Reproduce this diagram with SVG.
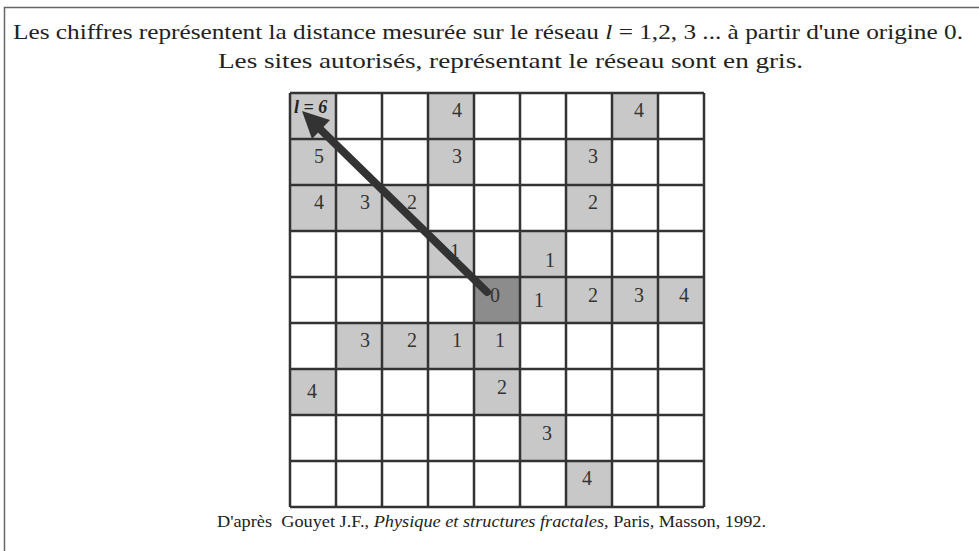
<svg xmlns="http://www.w3.org/2000/svg" width="979" height="551" viewBox="0 0 979 551">
<style>
.t{font-family:"Liberation Serif","Times New Roman",serif;fill:#222;}
.n{font-family:"Liberation Serif","Times New Roman",serif;font-size:20px;fill:#333;text-anchor:middle;}
.g{fill:#c8c8c8;}
.o{fill:#8c8c8c;}
.grid{fill:none;stroke:#333;stroke-width:2.5;}
</style>
<rect width="979" height="551" fill="#fff"/>
<path d="M4.5 551 V7.5 H979" fill="none" stroke="#666" stroke-width="1.5"/>
<text class="t" x="13" y="39" font-size="22" textLength="950" lengthAdjust="spacingAndGlyphs">Les chiffres représentent la distance mesurée sur le réseau <tspan font-style="italic">l</tspan> = 1,2, 3 ... à partir d'une origine 0.</text>
<text class="t" x="218" y="68" font-size="22" textLength="585" lengthAdjust="spacingAndGlyphs">Les sites autorisés, représentant le réseau sont en gris.</text>
<g id="cells">
<g id="c0-0"><rect class="g" x="290" y="93" width="46" height="46"/></g>
<g id="c0-3"><rect class="g" x="428" y="93" width="46" height="46"/></g>
<g id="c0-7"><rect class="g" x="612" y="93" width="46" height="46"/></g>
<g id="c1-0"><rect class="g" x="290" y="139" width="46" height="46"/></g>
<g id="c1-3"><rect class="g" x="428" y="139" width="46" height="46"/></g>
<g id="c1-6"><rect class="g" x="566" y="139" width="46" height="46"/></g>
<g id="c2-0"><rect class="g" x="290" y="185" width="46" height="46"/></g>
<g id="c2-1"><rect class="g" x="336" y="185" width="46" height="46"/></g>
<g id="c2-2"><rect class="g" x="382" y="185" width="46" height="46"/></g>
<g id="c2-6"><rect class="g" x="566" y="185" width="46" height="46"/></g>
<g id="c3-3"><rect class="g" x="428" y="231" width="46" height="46"/></g>
<g id="c3-5"><rect class="g" x="520" y="231" width="46" height="46"/></g>
<g id="c4-4"><rect class="o" x="474" y="277" width="46" height="46"/></g>
<g id="c4-5"><rect class="g" x="520" y="277" width="46" height="46"/></g>
<g id="c4-6"><rect class="g" x="566" y="277" width="46" height="46"/></g>
<g id="c4-7"><rect class="g" x="612" y="277" width="46" height="46"/></g>
<g id="c4-8"><rect class="g" x="658" y="277" width="46" height="46"/></g>
<g id="c5-1"><rect class="g" x="336" y="323" width="46" height="46"/></g>
<g id="c5-2"><rect class="g" x="382" y="323" width="46" height="46"/></g>
<g id="c5-3"><rect class="g" x="428" y="323" width="46" height="46"/></g>
<g id="c5-4"><rect class="g" x="474" y="323" width="46" height="46"/></g>
<g id="c6-0"><rect class="g" x="290" y="369" width="46" height="46"/></g>
<g id="c6-4"><rect class="g" x="474" y="369" width="46" height="46"/></g>
<g id="c7-5"><rect class="g" x="520" y="415" width="46" height="46"/></g>
<g id="c8-6"><rect class="g" x="566" y="461" width="46" height="46"/></g>
</g>
<path class="grid" d="M290 93 V507 M336 93 V507 M382 93 V507 M428 93 V507 M474 93 V507 M520 93 V507 M566 93 V507 M612 93 V507 M658 93 V507 M704 93 V507 M290 93 H704 M290 139 H704 M290 185 H704 M290 231 H704 M290 277 H704 M290 323 H704 M290 369 H704 M290 415 H704 M290 461 H704 M290 507 H704"/>
<g id="labels">
<text class="t" x="294" y="113" font-size="18" font-weight="bold" font-style="italic" fill="#333">l = 6</text>
<text class="n" x="457" y="117">4</text>
<text class="n" x="639" y="117">4</text>
<text class="n" x="319" y="163">5</text>
<text class="n" x="457" y="163">3</text>
<text class="n" x="593" y="163">3</text>
<text class="n" x="319" y="209">4</text>
<text class="n" x="365" y="209">3</text>
<text class="n" x="412" y="209">2</text>
<text class="n" x="593" y="209">2</text>
<text class="n" x="455" y="258">1</text>
<text class="n" x="550" y="267">1</text>
<text class="n" x="495" y="302">0</text>
<text class="n" x="539" y="307">1</text>
<text class="n" x="593" y="302">2</text>
<text class="n" x="639" y="302">3</text>
<text class="n" x="684" y="302">4</text>
<text class="n" x="365" y="347">3</text>
<text class="n" x="412" y="347">2</text>
<text class="n" x="457" y="347">1</text>
<text class="n" x="500" y="347">1</text>
<text class="n" x="312" y="398">4</text>
<text class="n" x="502" y="394">2</text>
<text class="n" x="547" y="440">3</text>
<text class="n" x="587" y="485">4</text>
</g>
<g id="connectors">
<line x1="487" y1="292" x2="318" y2="127" stroke="#333" stroke-width="8" stroke-linecap="round"/>
<polygon points="302,111 330,120 312,139" fill="#333"/>
</g>
<text class="t" x="217" y="527" font-size="16" textLength="549" lengthAdjust="spacingAndGlyphs" xml:space="preserve">D'après  Gouyet J.F., <tspan font-style="italic">Physique et structures fractales,</tspan> Paris, Masson, 1992.</text>
</svg>
